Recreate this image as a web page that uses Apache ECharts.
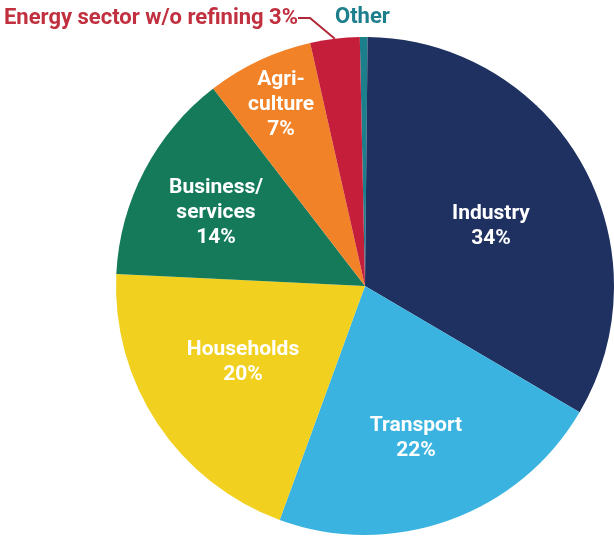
<!DOCTYPE html>
<html>
<head>
<meta charset="utf-8">
<script src="https://cdn.jsdelivr.net/npm/echarts@6/dist/echarts.min.js"></script>
<style>
html, body { margin: 0; padding: 0; background: #fff; }
#chart { width: 614px; height: 537px; }
</style>
</head>
<body>
<div id="chart"></div>
<script>
// data, clockwise from 12 o'clock
var categories = ['Other', 'Industry', 'Transport', 'Households', 'Business/services', 'Agriculture', 'Energy sector w/o refining'];
var shares = [0.5, 33.3, 22.1, 20.2, 13.8, 6.9, 3.2];
var labelTexts = ['Other', 'Industry\n34%', 'Transport\n22%', 'Households\n20%', 'Business/\nservices\n14%', 'Agri-\nculture\n7%', 'Energy sector w/o refining 3%'];

var colors = ['#1b7f8c', '#1f3160', '#3bb3e0', '#f1d01f', '#147a5a', '#f28228', '#c41e3a'];

// where each label sits (centre of text block)
var labelAt = [
	{ x: 335, y: 17, align: 'left' },
	{ x: 491, y: 226 },
	{ x: 416, y: 438 },
	{ x: 243, y: 362 },
	{ x: 216, y: 213 },
	{ x: 281, y: 105 },
	{ x: 298, y: 18, align: 'right' }
];

var chart = echarts.init(document.getElementById('chart'));

var pieData = categories.map(function (name, i) {
	var item = {
		name: name,
		value: shares[i],
		itemStyle: { color: colors[i] },
		label: { formatter: labelTexts[i] }
	};
	if (i === 0) {
		item.label.position = 'outside';
		item.label.color = '#1d7f8c';
		item.label.fontSize = 22;
		item.labelLine = { show: false };
	}
	if (i === 6) {
		item.label.position = 'outside';
		item.label.color = '#c0303f';
		item.label.fontSize = 22;
		item.labelLine = { show: true, length: 26, length2: 12, lineStyle: { color: '#b0283a', width: 2 } };
	}
	return item;
});

chart.setOption({
	animation: false,
	series: [{
		type: 'pie',
		center: [365, 286],
		radius: 249,
		startAngle: 91.2,
		clockwise: true,
		avoidLabelOverlap: false,
		label: {
			show: true,
			position: 'inside',
			color: '#fff',
			fontFamily: 'Roboto',
			fontWeight: 'bold',
			fontSize: 21,
			lineHeight: 25,
			align: 'center'
		},
		labelLayout: function (p) {
			var a = labelAt[p.dataIndex];
			return {
				x: a.x,
				y: a.y,
				align: a.align || 'center',
				verticalAlign: 'middle'
			};
		},
		data: pieData
	}]
});
</script>
</body>
</html>
